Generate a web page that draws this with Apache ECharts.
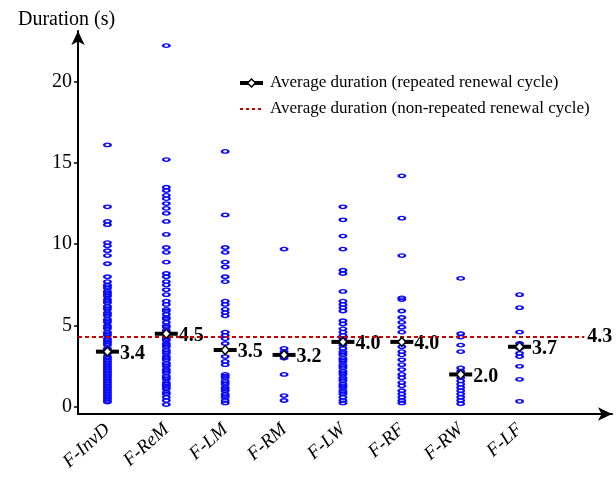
<!DOCTYPE html>
<html>
<head>
<meta charset="utf-8">
<script src="https://cdn.jsdelivr.net/npm/echarts@6/dist/echarts.min.js"></script>
<style>
  html, body { margin: 0; padding: 0; background: #fff; }
  #chart { width: 616px; height: 483px; }
</style>
</head>
<body>
<div id="chart"></div>
<script>
/* ---------- data ---------- */
const categories = ["F-InvD", "F-ReM", "F-LM", "F-RM", "F-LW", "F-RF", "F-RW", "F-LF"];
const yTicks = [0, 5, 10, 15, 20];

// average duration per fault type (repeated renewal cycle)
const avgRepeated = [3.4, 4.5, 3.5, 3.2, 4.0, 4.0, 2.0, 3.7];
// average duration (non-repeated renewal cycle)
const avgNonRepeated = 4.3;

// individual durations (s)
const durInvD = [16.1, 12.3, 11.4, 11.2, 10.1, 9.9, 9.6, 9.3, 8.8, 8.0, 7.7, 7.5, 7.3, 7.1, 6.9, 6.8, 6.6,
  6.4, 6.2, 6.0, 5.8, 5.6, 5.4, 5.2, 5.0, 4.8, 4.6, 4.4, 4.2, 4.0, 3.8, 3.6, 3.3, 3.1, 2.9, 2.7, 2.5, 2.3,
  2.1, 1.9, 1.7, 1.5, 1.3, 1.1, 0.9, 0.7, 0.5, 0.3, 3.9, 3.5, 3.0, 2.6, 2.2, 1.8, 1.4, 1.0, 0.6, 0.4,
  7.4, 7.0, 6.5, 6.1, 5.7, 5.3, 4.9, 4.5, 4.1, 2.8, 2.4, 2.0, 1.6, 1.2, 0.8];
const durReM = [22.2, 15.2, 13.5, 13.3, 13.0, 12.8, 12.5, 12.2, 11.9, 11.4, 10.6, 9.8, 9.5, 8.9, 8.2, 8.0,
  7.7, 7.5, 7.2, 6.9, 6.5, 6.3, 6.0, 5.7, 5.5, 5.2, 4.9, 4.7, 4.5, 4.3, 4.1, 3.9, 3.7, 3.5, 3.3, 3.1, 2.9,
  2.7, 2.5, 2.3, 2.1, 1.9, 1.7, 1.5, 1.3, 1.1, 0.9, 0.6, 0.4, 0.15, 5.9, 5.4, 5.0, 4.6, 4.2, 3.8, 3.4,
  3.0, 2.6, 2.2, 1.8, 1.4, 1.2, 0.8];
const durLM = [15.7, 11.8, 9.8, 9.5, 8.9, 8.6, 8.0, 7.7, 6.5, 6.3, 6.0, 5.8, 5.6, 4.6, 4.4, 4.2, 3.9, 3.1,
  2.8, 2.6, 2.0, 1.8, 1.6, 1.4, 1.2, 1.0, 0.8, 0.6, 0.4, 0.25, 1.9, 1.5, 1.1, 0.7];
const durRM = [9.7, 3.6, 3.4, 3.0, 2.0, 0.7, 0.4];
const durLW = [12.3, 11.5, 10.5, 9.7, 8.4, 8.2, 7.1, 6.5, 6.3, 6.1, 5.9, 5.3, 5.1, 4.8, 4.6, 4.4, 4.2, 3.8,
  3.6, 3.4, 3.2, 3.0, 2.8, 2.6, 2.4, 2.2, 2.0, 1.8, 1.6, 1.4, 1.2, 1.0, 0.8, 0.6, 0.4, 0.25, 3.3, 2.9,
  2.5, 2.1, 1.7, 1.3, 0.9];
const durRF = [14.2, 11.6, 9.3, 6.7, 6.6, 5.9, 5.5, 5.2, 4.9, 4.6, 3.7, 3.4, 3.2, 2.9, 2.6, 2.3, 2.0, 1.8,
  1.5, 1.3, 1.0, 0.8, 0.6, 0.4, 0.25];
const durRW = [7.9, 4.5, 4.3, 3.8, 3.4, 2.4, 2.2, 2.0, 1.8, 1.6, 1.4, 1.2, 1.0, 0.8, 0.6, 0.4, 0.2];
const durLF = [6.9, 6.1, 4.6, 3.9, 3.6, 3.3, 3.1, 2.5, 1.7, 0.35];

const durations = [durInvD, durReM, durLM, durRM, durLW, durRF, durRW, durLF];

/* ---------- build ---------- */
const FONT = "Liberation Serif";
const pos = (i) => i + 0.5; // category centre on the value x-axis

const pointData = [];
durations.forEach((list, i) => list.forEach((v) => pointData.push([pos(i), v])));
const avgData = avgRepeated.map((v, i) => [pos(i), v]);

const chart = echarts.init(document.getElementById("chart"));

const option = {
  animation: false,
  title: {
    text: "Duration (s)",
    left: 13,
    top: 5,
    textStyle: { fontFamily: FONT, fontSize: 20, fontWeight: "normal", color: "#000" },
  },
  grid: { left: 78, right: 4, top: 31, bottom: 69 },
  xAxis: {
    type: "value",
    min: 0,
    max: 9.07,
    axisLine: {
      onZero: false,
      symbol: ["none", "arrow"],
      symbolSize: [10, 14],
      lineStyle: { color: "#000", width: 2 },
    },
    axisTick: { show: false },
    splitLine: { show: false },
    axisLabel: {
      customValues: categories.map((c, i) => pos(i)),
      formatter: (v) => categories[Math.round(v - 0.5)] || "",
      rotate: 42,
      margin: 13,
      fontFamily: FONT,
      fontStyle: "italic",
      fontSize: 19,
      color: "#000",
    },
  },
  yAxis: {
    type: "value",
    min: -0.43,
    max: 23.1,
    axisLine: {
      show: true,
      onZero: false,
      symbol: ["none", "arrow"],
      symbolSize: [10, 14],
      lineStyle: { color: "#000", width: 2 },
    },
    axisTick: { show: true, length: 4, customValues: yTicks, lineStyle: { color: "#000", width: 1.5 } },
    splitLine: { show: false },
    axisLabel: {
      customValues: yTicks,
      margin: 6,
      fontFamily: FONT,
      fontSize: 20,
      color: "#000",
    },
  },
  series: [
    {
      name: "durations",
      type: "scatter",
      data: pointData,
      symbol: "path://M0,5 A8,5 0 1,1 16,5 A8,5 0 1,1 0,5 Z",
      symbolSize: [6.5, 3.5],
      itemStyle: { color: "rgba(0,0,0,0)", borderColor: "#0a0aff", borderWidth: 1.8, opacity: 1 },
      z: 2,
      markLine: {
        silent: true,
        symbol: "none",
        lineStyle: { color: "#c80000", type: [4, 3], width: 2 },
        label: {
          position: "end",
          distance: 3,
          formatter: () => avgNonRepeated.toFixed(1),
          fontFamily: FONT,
          fontWeight: "bold",
          fontSize: 20,
          color: "#000",
        },
        data: [[{ coord: [0, avgNonRepeated] }, { coord: [8.6, avgNonRepeated] }]],
      },
    },
    {
      name: "avgBar",
      type: "scatter",
      data: avgData,
      symbol: "rect",
      symbolSize: [23, 4],
      itemStyle: { color: "#000", opacity: 1 },
      z: 4,
      label: {
        show: true,
        position: "right",
        distance: 1,
        offset: [0, 2],
        formatter: (p) => p.value[1].toFixed(1),
        fontFamily: FONT,
        fontWeight: "bold",
        fontSize: 20,
        color: "#000",
      },
    },
    {
      name: "avgDiamond",
      type: "scatter",
      data: avgData,
      symbol: "diamond",
      symbolSize: [8, 9],
      itemStyle: { color: "#fff", borderColor: "#000", borderWidth: 1.5, opacity: 1 },
      z: 5,
    },
  ],
  graphic: [
    // legend: repeated renewal cycle
    { type: "rect", left: 240, top: 81, shape: { width: 23, height: 4 }, style: { fill: "#000" } },
    {
      type: "polygon",
      shape: { points: [[251.5, 79], [255.5, 83], [251.5, 87], [247.5, 83]] },
      style: { fill: "#fff", stroke: "#000", lineWidth: 1.5 },
      z: 10,
    },
    {
      type: "text",
      left: 270,
      top: 74,
      style: { text: "Average duration (repeated renewal cycle)", font: "17px " + FONT, fill: "#000" },
    },
    // legend: non-repeated renewal cycle
    {
      type: "line",
      shape: { x1: 240, y1: 109, x2: 263, y2: 109 },
      style: { stroke: "#c80000", lineWidth: 2, lineDash: [3, 3] },
    },
    {
      type: "text",
      left: 270,
      top: 100,
      style: { text: "Average duration (non-repeated renewal cycle)", font: "17px " + FONT, fill: "#000" },
    },
  ],
};

chart.setOption(option);
</script>
</body>
</html>
